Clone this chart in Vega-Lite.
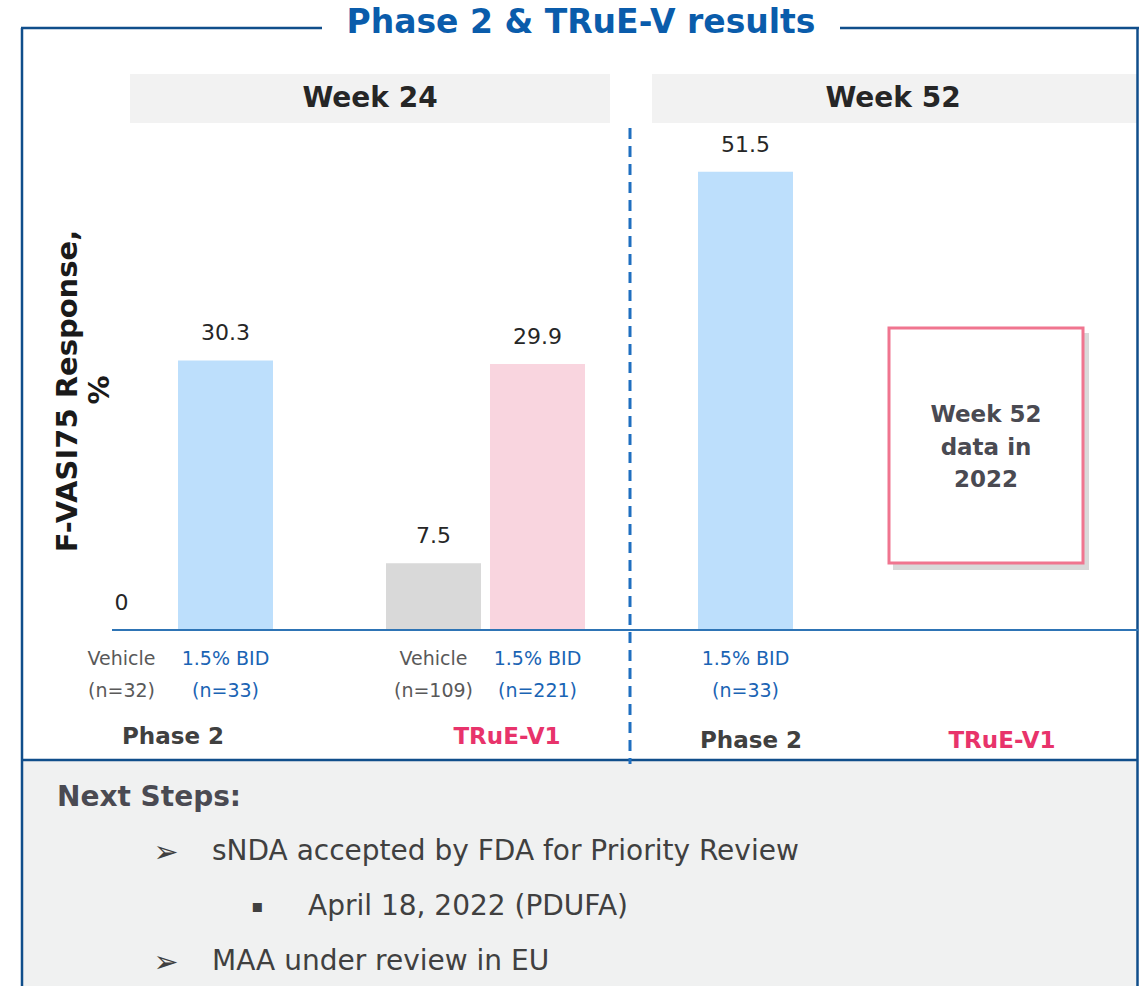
{
  "$schema": "https://vega.github.io/schema/vega-lite/v6.json",
  "width": 1140,
  "height": 986,
  "autosize": {"type": "fit", "contains": "padding"},
  "padding": 0,
  "background": "white",
  "config": {"font": "DejaVu Sans", "mark": {"font": "DejaVu Sans"}, "view": {"stroke": null}},
  "resolve": {"scale": {"x": "independent", "y": "independent"}},
  "layer": [
    {
      "data": {"values": [
        {"bar": "W24 Phase 2 Vehicle", "week": "Week 24", "study": "Phase 2", "arm": "Vehicle", "n": 32, "label": "Vehicle\n(n=32)", "value": 0},
        {"bar": "W24 Phase 2 1.5% BID", "week": "Week 24", "study": "Phase 2", "arm": "1.5% BID", "n": 33, "label": "1.5% BID\n(n=33)", "value": 30.3},
        {"bar": "W24 TRuE-V1 Vehicle", "week": "Week 24", "study": "TRuE-V1", "arm": "Vehicle", "n": 109, "label": "Vehicle\n(n=109)", "value": 7.5},
        {"bar": "W24 TRuE-V1 1.5% BID", "week": "Week 24", "study": "TRuE-V1", "arm": "1.5% BID", "n": 221, "label": "1.5% BID\n(n=221)", "value": 29.9},
        {"bar": "W52 Phase 2 1.5% BID", "week": "Week 52", "study": "Phase 2", "arm": "1.5% BID", "n": 33, "label": "1.5% BID\n(n=33)", "value": 51.5}
      ]},
      "encoding": {
        "x": {"field": "bar", "type": "nominal", "axis": null,
          "scale": {"type": "band", "domain": ["W24 Phase 2 Vehicle", "W24 Phase 2 1.5% BID", "gap1", "W24 TRuE-V1 Vehicle", "W24 TRuE-V1 1.5% BID", "gap2", "W52 Phase 2 1.5% BID"], "range": [69.5, 797.5], "paddingInner": 0.0865, "paddingOuter": 0.04325}},
        "y": {"field": "value", "type": "quantitative", "axis": null, "scale": {"domain": [-40, 70.8], "range": [986, 0], "nice": false, "zero": false}}
      },
      "layer": [
        {"mark": {"type": "bar"},
         "encoding": {"y2": {"datum": 0},
           "color": {"field": "bar", "type": "nominal", "legend": null,
             "scale": {"domain": ["W24 Phase 2 Vehicle", "W24 Phase 2 1.5% BID", "W24 TRuE-V1 Vehicle", "W24 TRuE-V1 1.5% BID", "W52 Phase 2 1.5% BID"], "range": ["#d9d9d9", "#bddffc", "#d9d9d9", "#f9d5df", "#bddffc"]}}}},
        {"mark": {"type": "text", "dy": -27, "baseline": "middle", "fontSize": 22, "color": "#262626"},
         "encoding": {"text": {"field": "value", "type": "quantitative", "format": ".1~f"}}},
        {"mark": {"type": "text", "lineBreak": "\n", "lineHeight": 32, "baseline": "alphabetic", "fontSize": 19},
         "encoding": {"y": {"datum": 0, "type": "quantitative"}, "yOffset": {"value": 35},
           "text": {"field": "label"},
           "color": {"condition": {"test": "datum.arm === 'Vehicle'", "value": "#595959"}, "value": "#1a64b4"}}}
      ]
    },
    {
      "data": {"values": [{}]},
      "layer": [
        {"mark": {"type": "rect", "fill": "#f0f1f1"},
         "encoding": {"x": {"datum": 22, "type": "quantitative", "axis": null, "scale": {"domain": [0, 1140], "range": [0, 1140], "nice": false, "zero": false}}, "x2": {"datum": 1138},
           "y": {"datum": 760, "type": "quantitative", "axis": null, "scale": {"domain": [0, 986], "range": [0, 986], "nice": false, "zero": false}}, "y2": {"datum": 986}}},
        {"mark": {"type": "rect", "fill": "#f2f2f2"},
         "encoding": {"x": {"datum": 130, "type": "quantitative"}, "x2": {"datum": 610}, "y": {"datum": 74, "type": "quantitative"}, "y2": {"datum": 123}}},
        {"mark": {"type": "rect", "fill": "#f2f2f2"},
         "encoding": {"x": {"datum": 652, "type": "quantitative"}, "x2": {"datum": 1138}, "y": {"datum": 74, "type": "quantitative"}, "y2": {"datum": 123}}},
        {"mark": {"type": "rect", "fill": "#808080", "opacity": 0.3},
         "encoding": {"x": {"datum": 893, "type": "quantitative"}, "x2": {"datum": 1089}, "y": {"datum": 333, "type": "quantitative"}, "y2": {"datum": 570}}},
        {"mark": {"type": "rect", "fill": "white", "stroke": "#f0758f", "strokeWidth": 3},
         "encoding": {"x": {"datum": 889, "type": "quantitative"}, "x2": {"datum": 1083}, "y": {"datum": 328, "type": "quantitative"}, "y2": {"datum": 563}}},
        {"mark": {"type": "rule", "color": "#104e8b", "strokeWidth": 2.5},
         "encoding": {"x": {"datum": 21, "type": "quantitative"}, "x2": {"datum": 322}, "y": {"datum": 28, "type": "quantitative"}}},
        {"mark": {"type": "rule", "color": "#104e8b", "strokeWidth": 2.5},
         "encoding": {"x": {"datum": 840, "type": "quantitative"}, "x2": {"datum": 1139}, "y": {"datum": 28, "type": "quantitative"}}},
        {"mark": {"type": "rule", "color": "#104e8b", "strokeWidth": 2.5},
         "encoding": {"x": {"datum": 22, "type": "quantitative"}, "y": {"datum": 28, "type": "quantitative"}, "y2": {"datum": 986}}},
        {"mark": {"type": "rule", "color": "#104e8b", "strokeWidth": 2.5},
         "encoding": {"x": {"datum": 1137.5, "type": "quantitative"}, "y": {"datum": 28, "type": "quantitative"}, "y2": {"datum": 986}}},
        {"mark": {"type": "rule", "color": "#104e8b", "strokeWidth": 2.5},
         "encoding": {"x": {"datum": 22, "type": "quantitative"}, "x2": {"datum": 1138}, "y": {"datum": 760, "type": "quantitative"}}},
        {"mark": {"type": "rule", "color": "#2e74b5", "strokeWidth": 2},
         "encoding": {"x": {"datum": 112, "type": "quantitative"}, "x2": {"datum": 1138}, "y": {"datum": 630, "type": "quantitative"}}},
        {"mark": {"type": "rule", "color": "#1f6fc0", "strokeWidth": 3, "strokeDash": [11, 7]},
         "encoding": {"x": {"datum": 630, "type": "quantitative"}, "y": {"datum": 128, "type": "quantitative"}, "y2": {"datum": 764}}},
        {"mark": {"type": "text", "fontSize": 33, "fontWeight": "bold", "color": "#0a5cab", "align": "center", "baseline": "middle"},
         "encoding": {"x": {"datum": 581, "type": "quantitative"}, "y": {"datum": 23, "type": "quantitative"}, "text": {"value": "Phase 2 & TRuE-V results"}}},
        {"mark": {"type": "text", "fontSize": 28, "fontWeight": "bold", "color": "#262626", "align": "center", "baseline": "middle"},
         "encoding": {"x": {"datum": 370, "type": "quantitative"}, "y": {"datum": 99, "type": "quantitative"}, "text": {"value": "Week 24"}}},
        {"mark": {"type": "text", "fontSize": 28, "fontWeight": "bold", "color": "#262626", "align": "center", "baseline": "middle"},
         "encoding": {"x": {"datum": 893, "type": "quantitative"}, "y": {"datum": 99, "type": "quantitative"}, "text": {"value": "Week 52"}}},
        {"mark": {"type": "text", "fontSize": 29, "fontWeight": "bold", "color": "#1a1a1a", "align": "center", "baseline": "middle", "angle": 270},
         "encoding": {"x": {"datum": 68, "type": "quantitative"}, "y": {"datum": 391, "type": "quantitative"}, "text": {"value": "F-VASI75 Response,"}}},
        {"mark": {"type": "text", "fontSize": 29, "fontWeight": "bold", "color": "#1a1a1a", "align": "center", "baseline": "middle", "angle": 270},
         "encoding": {"x": {"datum": 100, "type": "quantitative"}, "y": {"datum": 390, "type": "quantitative"}, "text": {"value": "%"}}},
        {"mark": {"type": "text", "fontSize": 23, "fontWeight": "bold", "color": "#404040", "align": "center", "baseline": "middle"},
         "encoding": {"x": {"datum": 173, "type": "quantitative"}, "y": {"datum": 737, "type": "quantitative"}, "text": {"value": "Phase 2"}}},
        {"mark": {"type": "text", "fontSize": 23, "fontWeight": "bold", "color": "#e8336b", "align": "center", "baseline": "middle"},
         "encoding": {"x": {"datum": 507, "type": "quantitative"}, "y": {"datum": 737, "type": "quantitative"}, "text": {"value": "TRuE-V1"}}},
        {"mark": {"type": "text", "fontSize": 23, "fontWeight": "bold", "color": "#404040", "align": "center", "baseline": "middle"},
         "encoding": {"x": {"datum": 751, "type": "quantitative"}, "y": {"datum": 741, "type": "quantitative"}, "text": {"value": "Phase 2"}}},
        {"mark": {"type": "text", "fontSize": 23, "fontWeight": "bold", "color": "#e8336b", "align": "center", "baseline": "middle"},
         "encoding": {"x": {"datum": 1002, "type": "quantitative"}, "y": {"datum": 741, "type": "quantitative"}, "text": {"value": "TRuE-V1"}}},
        {"mark": {"type": "text", "fontSize": 23, "fontWeight": "bold", "color": "#4a4a52", "align": "center", "baseline": "middle", "lineBreak": "\n", "lineHeight": 32.5},
         "encoding": {"x": {"datum": 986, "type": "quantitative"}, "y": {"datum": 415, "type": "quantitative"}, "text": {"value": "Week 52\ndata in\n2022"}}},
        {"mark": {"type": "text", "fontSize": 28, "fontWeight": "bold", "color": "#4a4a52", "align": "left", "baseline": "middle"},
         "encoding": {"x": {"datum": 57, "type": "quantitative"}, "y": {"datum": 798, "type": "quantitative"}, "text": {"value": "Next Steps:"}}},
        {"mark": {"type": "text", "fontSize": 30, "color": "#404040", "align": "center", "baseline": "middle"},
         "encoding": {"x": {"datum": 166, "type": "quantitative"}, "y": {"datum": 853, "type": "quantitative"}, "text": {"value": "➢"}}},
        {"mark": {"type": "text", "fontSize": 28, "color": "#404040", "align": "left", "baseline": "middle"},
         "encoding": {"x": {"datum": 212, "type": "quantitative"}, "y": {"datum": 852, "type": "quantitative"}, "text": {"value": "sNDA accepted by FDA for Priority Review"}}},
        {"mark": {"type": "text", "fontSize": 18, "color": "#404040", "align": "center", "baseline": "middle"},
         "encoding": {"x": {"datum": 257, "type": "quantitative"}, "y": {"datum": 907, "type": "quantitative"}, "text": {"value": "▪"}}},
        {"mark": {"type": "text", "fontSize": 28, "color": "#404040", "align": "left", "baseline": "middle"},
         "encoding": {"x": {"datum": 308, "type": "quantitative"}, "y": {"datum": 907, "type": "quantitative"}, "text": {"value": "April 18, 2022 (PDUFA)"}}},
        {"mark": {"type": "text", "fontSize": 30, "color": "#404040", "align": "center", "baseline": "middle"},
         "encoding": {"x": {"datum": 166, "type": "quantitative"}, "y": {"datum": 963, "type": "quantitative"}, "text": {"value": "➢"}}},
        {"mark": {"type": "text", "fontSize": 28, "color": "#404040", "align": "left", "baseline": "middle"},
         "encoding": {"x": {"datum": 212, "type": "quantitative"}, "y": {"datum": 962, "type": "quantitative"}, "text": {"value": "MAA under review in EU"}}}
      ]
    }
  ]
}
